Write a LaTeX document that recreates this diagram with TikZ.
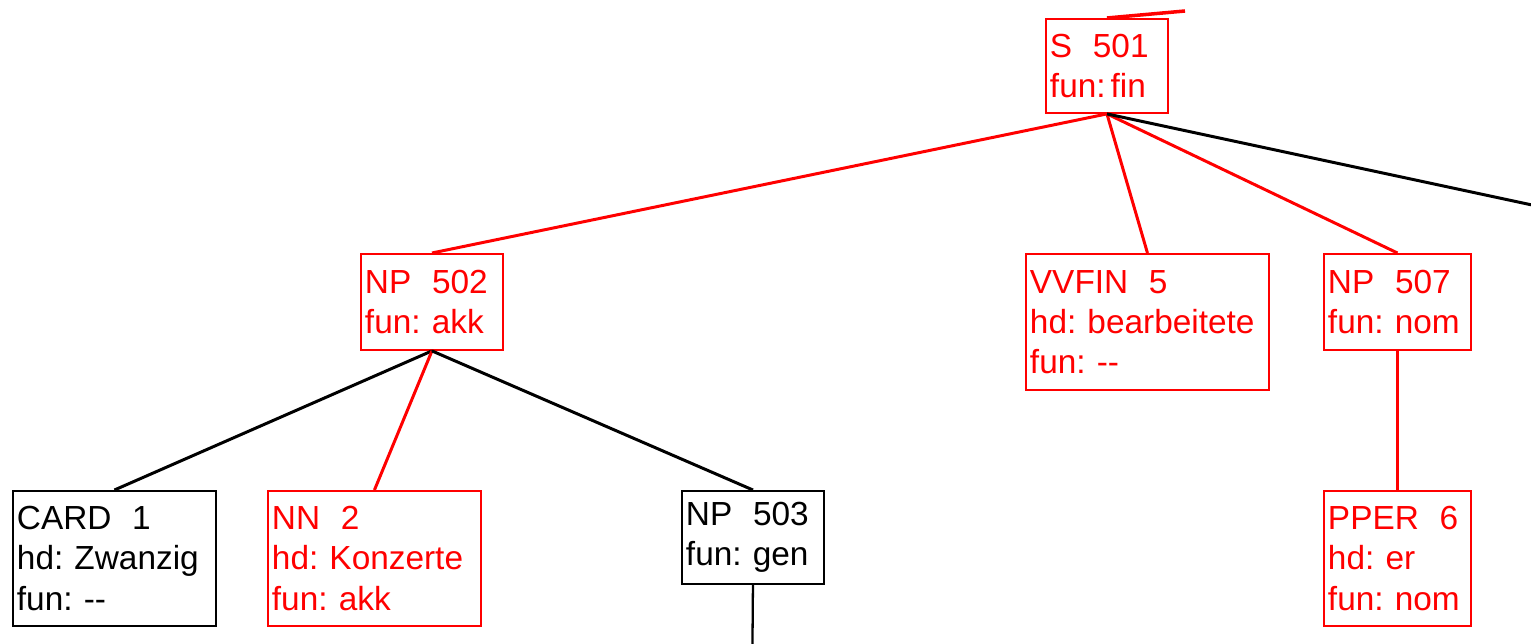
\documentclass[tikz,border=0pt]{standalone}
\usepackage{fontspec}
\setmainfont{Liberation Sans}
\usepackage{xcolor}
\usepackage{tikz}
\usetikzlibrary{calc}
\definecolor{hilite}{HTML}{FF0000}
\definecolor{plain}{HTML}{000000}
\tikzset{
  cat/.style={draw=plain, line width=1.1pt, anchor=north west, align=left,
    inner xsep=0.08cm, inner ysep=0.1cm,
    font=\fontsize{19}{22.8}\selectfont\frenchspacing},
  hcat/.style={cat, draw=hilite, text=hilite},
  edge/.style={draw=plain, line width=1.7pt},
  hedge/.style={draw=hilite, line width=1.7pt},
  vedge/.style={draw=plain, line width=1.3pt},
  hvedge/.style={draw=hilite, line width=1.3pt}
}
\newcommand{\catgap}{\hspace{0.62em}}
\newcommand{\nofun}{-{}-}

\begin{document}
\begin{tikzpicture}[x=0.02cm, y=-0.02cm]
  \useasboundingbox (0,0) rectangle (1531,644);
  \clip (0,0) rectangle (1531,644);

  % top level
  \node[hcat, text width=2.28cm, minimum height=1.88cm] (S501) at (1045,18)
    {S\catgap 501\\fun:\hspace{0.15em}fin};

  % second level
  \node[hcat, text width=2.68cm, minimum height=1.92cm] (NP502) at (360,253)
    {NP\catgap 502\\fun: akk};
  \node[hcat, text width=4.7cm, minimum height=2.72cm] (VVFIN5) at (1025,253)
    {VVFIN\catgap 5\\hd: bearbeitete\\fun: \nofun};
  \node[hcat, text width=2.78cm, minimum height=1.92cm] (NP507) at (1323,253)
    {NP\catgap 507\\fun: nom};

  % third level
  \node[cat, text width=3.9cm, minimum height=2.7cm] (CARD1) at (12,490)
    {CARD\catgap 1\\hd: Zwanzig\\fun: \nofun};
  \node[hcat, text width=4.1cm, minimum height=2.7cm] (NN2) at (267,490)
    {NN\catgap 2\\hd: Konzerte\\fun: akk};
  \node[cat, text width=2.68cm, minimum height=1.86cm] (NP503) at (681,490)
    {NP\catgap 503\\fun: gen};
  \node[hcat, text width=2.78cm, minimum height=2.7cm] (PPER6) at (1323,490)
    {PPER\catgap 6\\hd: er\\fun: nom};

  % ends running off the sheet
  \coordinate (S501up) at (1185,11);
  \coordinate (S501right) at (1700,241);
  \coordinate (NP503down) at (752,700);

  % edges
  \draw[hedge, line width=2pt] (S501.north) -- (S501up);
  \draw[hedge] (S501.south) -- (NP502.north);
  \draw[hedge] (S501.south) -- (VVFIN5.north);
  \draw[hedge] (S501.south) -- (NP507.north);
  \draw[edge] (S501.south) -- (S501right);

  \draw[edge] (NP502.south) -- (CARD1.north);
  \draw[hedge] (NP502.south) -- (NN2.north);
  \draw[edge] (NP502.south) -- (NP503.north);

  \draw[hvedge] (NP507.south) -- (PPER6.north);
  \draw[vedge] (NP503.south) -- (NP503down);
\end{tikzpicture}
\end{document}
